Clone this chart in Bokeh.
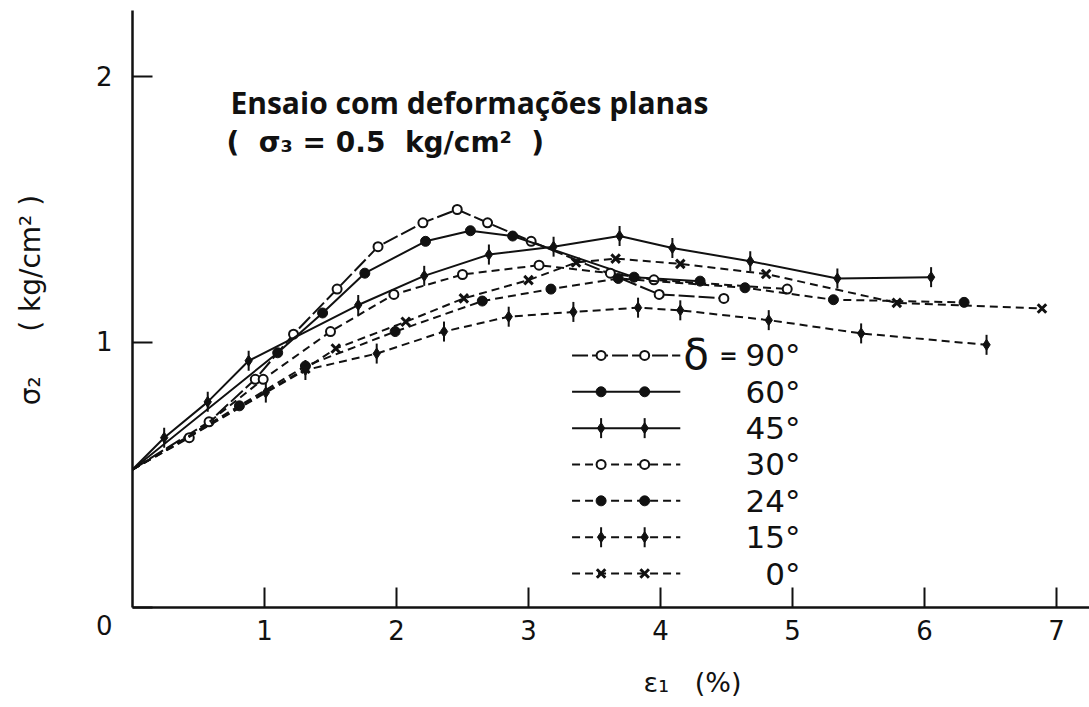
import numpy as np
from bokeh.plotting import figure
from bokeh.models import Range1d, FixedTicker, Label
from bokeh.embed import file_html
from bokeh.resources import INLINE

# Plane-strain tests, sigma3 = 0.5 kg/cm2 : sigma2 versus axial strain eps1 (%)
# All curves begin at the same initial stress state.
START_STRAIN = 0.0
START_SIGMA2 = 0.52

delta_labels = ["90°", "60°", "45°", "30°", "24°", "15°", "0°"]

strain_90 = [0.58, 0.93, 1.22, 1.55, 1.86, 2.20, 2.46, 2.69, 3.02, 3.99, 4.48]
sigma2_90 = [0.70, 0.86, 1.03, 1.20, 1.36, 1.45, 1.50, 1.45, 1.38, 1.18, 1.165]

strain_60 = [1.10, 1.44, 1.76, 2.22, 2.56, 2.88, 3.80, 4.30]
sigma2_60 = [0.96, 1.11, 1.26, 1.38, 1.42, 1.40, 1.245, 1.23]

strain_45 = [0.24, 0.57, 0.88, 1.71, 2.21, 2.70, 3.19, 3.69, 4.09, 4.68, 5.34, 6.05]
sigma2_45 = [0.64, 0.775, 0.93, 1.14, 1.25, 1.33, 1.36, 1.40, 1.355, 1.305, 1.24, 1.245]

strain_30 = [0.43, 0.99, 1.50, 1.98, 2.50, 3.08, 3.62, 3.95, 4.96]
sigma2_30 = [0.64, 0.86, 1.04, 1.18, 1.255, 1.29, 1.26, 1.235, 1.20]

strain_24 = [0.81, 1.31, 1.99, 2.65, 3.17, 3.68, 4.64, 5.31, 6.30]
sigma2_24 = [0.76, 0.91, 1.04, 1.155, 1.20, 1.24, 1.205, 1.16, 1.15]

strain_15 = [1.01, 1.31, 1.85, 2.36, 2.85, 3.34, 3.83, 4.15, 4.82, 5.52, 6.47]
sigma2_15 = [0.81, 0.895, 0.957, 1.04, 1.096, 1.114, 1.13, 1.12, 1.083, 1.033, 0.99]

strain_0 = [1.31, 1.54, 2.07, 2.51, 3.00, 3.36, 3.66, 4.15, 4.80, 5.79, 6.89]
sigma2_0 = [0.90, 0.976, 1.077, 1.165, 1.234, 1.30, 1.315, 1.295, 1.257, 1.148, 1.127]

x_ticks = [1, 2, 3, 4, 5, 6, 7]
y_ticks = [0, 1, 2]

series = [
    (strain_90, sigma2_90, "open", "16 4"),
    (strain_60, sigma2_60, "filled", "solid"),
    (strain_45, sigma2_45, "tick", "solid"),
    (strain_30, sigma2_30, "open", "8 5"),
    (strain_24, sigma2_24, "filled", "8 5"),
    (strain_15, sigma2_15, "tick", "8 5"),
    (strain_0, sigma2_0, "cross", "8 5"),
]

INK = "#111111"
FONT = "DejaVu Sans"
NB = "\u00a0"

p = figure(width=1089, height=707,
           x_range=Range1d(0, 7.25), y_range=Range1d(0, 2.25),
           output_backend="svg", toolbar_location=None,
           min_border_left=132, min_border_right=0,
           min_border_top=10, min_border_bottom=100)
p.outline_line_color = None
p.grid.visible = False
p.background_fill_color = "white"

for ax, ticks in ((p.xaxis, x_ticks), (p.yaxis, y_ticks)):
    ax.ticker = FixedTicker(ticks=ticks)
    ax.axis_line_width = 2.5
    ax.axis_line_color = INK
    ax.major_tick_in = 20
    ax.major_tick_out = 0
    ax.major_tick_line_width = 2
    ax.major_tick_line_color = INK
    ax.minor_tick_line_color = None
    ax.major_label_text_font = FONT
    ax.major_label_text_font_size = "26px"
    ax.major_label_text_color = INK
    ax.axis_label_text_font = FONT
    ax.axis_label_text_font_style = "normal"
    ax.axis_label_text_color = INK
p.xaxis.major_label_standoff = 12
p.yaxis.major_label_standoff = 20
# the origin "0" sits below the corner, no tick mark there
p.yaxis.major_label_overrides = {0: "\n0"}

p.xaxis.axis_label = NB * 19 + "ε₁" + NB * 3 + "(%)"
p.xaxis.axis_label_text_font_size = "27px"
p.xaxis.axis_label_standoff = 24
p.yaxis.axis_label = NB * 2 + "σ₂" + NB * 5 + "( kg/cm² )"
p.yaxis.axis_label_text_font_size = "28px"
p.yaxis.axis_label_standoff = 46


def draw_markers(xs, ys, kind):
    if kind == "open":
        p.scatter(xs, ys, marker="circle", size=9, line_color=INK,
                  line_width=2, fill_color="white")
    elif kind == "filled":
        p.scatter(xs, ys, marker="circle", size=10, line_color=INK,
                  fill_color=INK)
    elif kind == "tick":
        p.scatter(xs, ys, marker="dash", angle=np.pi / 2, size=20,
                  line_color=INK, line_width=2)
        p.scatter(xs, ys, marker="diamond", size=11, line_color=INK,
                  fill_color=INK)
    else:
        p.scatter(xs, ys, marker="x", size=12, line_color=INK, line_width=3)


for xs, ys, kind, dash in series:
    p.line([START_STRAIN] + xs, [START_SIGMA2] + ys, line_color=INK,
           line_width=2, line_dash=dash)
    draw_markers(xs, ys, kind)

# key, drawn as rows inside the plot area
key_x0, key_x1 = 3.33, 4.15
key_marks = [3.55, 3.88]
key_text_x = 5.06
key_top, key_step = 0.95, 0.137
for i, ((xs, ys, kind, dash), lab) in enumerate(zip(series, delta_labels)):
    yk = key_top - i * key_step
    p.line([key_x0, key_x1], [yk, yk], line_color=INK, line_width=2,
           line_dash=dash)
    draw_markers(key_marks, [yk, yk], kind)
    p.add_layout(Label(x=key_text_x, y=yk, text=lab, text_align="right",
                       text_baseline="middle", text_font=FONT,
                       text_font_size="31px", text_color=INK))
p.add_layout(Label(x=4.27, y=key_top + 0.005, text="δ", text_align="center",
                   text_baseline="middle", text_font=FONT,
                   text_font_size="42px", text_color=INK))
p.add_layout(Label(x=4.515, y=key_top, text="=", text_align="center",
                   text_baseline="middle", text_font=FONT,
                   text_font_style="bold", text_font_size="22px",
                   text_color=INK))

# titles
p.add_layout(Label(x=0.742, y=1.902, text="Ensaio com deformações planas",
                   text_align="left", text_baseline="middle",
                   text_font="Open Sans", text_font_style="bold",
                   text_font_size="30px", text_color=INK))
p.add_layout(Label(x=0.712, y=1.751,
                   text="(" + NB + " σ₃" + NB + "=" + NB + "0.5" + NB * 2
                   + "kg/cm²" + NB * 2 + ")",
                   text_align="left", text_baseline="middle",
                   text_font=FONT, text_font_style="bold",
                   text_font_size="28px", text_color=INK))

open("out.html", "w").write(file_html(p, INLINE))
